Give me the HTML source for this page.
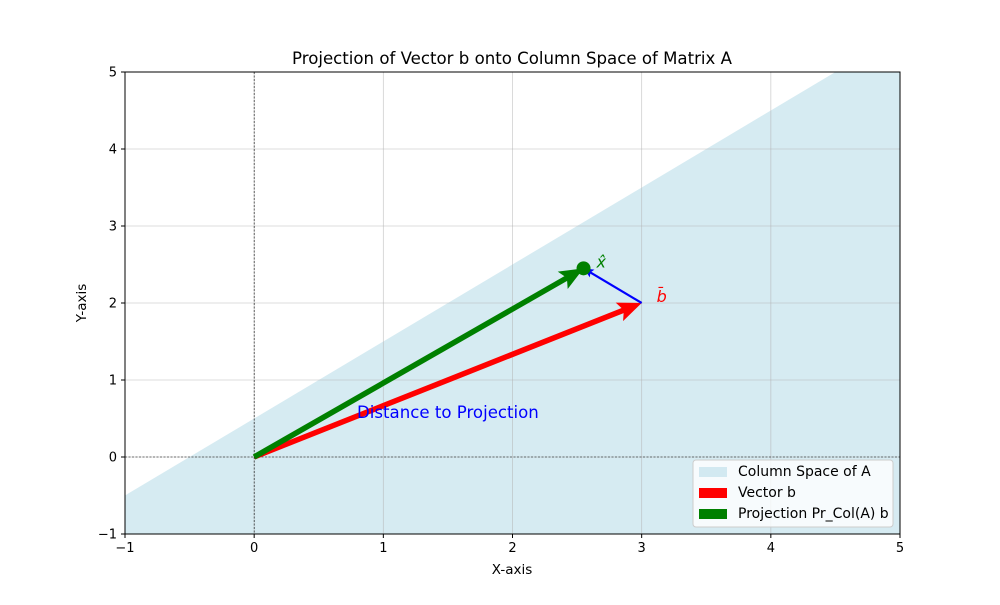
<!DOCTYPE html>
<html><head><meta charset="utf-8"><style>
body{margin:0;background:#fff;font-family:"Liberation Sans","DejaVu Sans",sans-serif}
svg text{font-family:"DejaVu Sans","Liberation Sans",sans-serif}
</style></head><body>
<svg width="1000" height="600" xmlns="http://www.w3.org/2000/svg">
<g id="g"></g>
</svg>
<script>
const xTicks=[-1,0,1,2,3,4,5];
const yTicks=[-1,0,1,2,3,4,5];
const vectorB=[3,2];
const projection=[2.55,2.45];
const spaceLine=[[-1,-0.5],[4.5,5]];
const NS="http://www.w3.org/2000/svg";
const X0=125,X1=900,Y0=534,Y1=72;
const sx=v=>X0+(v+1)/6*(X1-X0);
const sy=v=>Y0-(v+1)/6*(Y0-Y1);
const g=document.getElementById('g');
function el(t,a,name,txt){const e=document.createElementNS(NS,t);for(const k in a)e.setAttribute(k,a[k]);


if(txt!==undefined)e.textContent=txt;g.appendChild(e);return e;}
el('polygon',{points:`${sx(-1)},${sy(-1)} ${sx(spaceLine[0][0])},${sy(spaceLine[0][1])} ${sx(spaceLine[1][0])},${sy(spaceLine[1][1])} ${sx(5)},${sy(5)} ${sx(5)},${sy(-1)}`,fill:'#add8e6','fill-opacity':0.5},'column-space-fill');
xTicks.forEach(t=>{el('line',{x1:sx(t),x2:sx(t),y1:Y1,y2:Y0,stroke:'#b0b0b0','stroke-opacity':0.6,'stroke-width':0.8},'x-grid-line');});
yTicks.forEach(t=>{el('line',{x1:X0,x2:X1,y1:sy(t),y2:sy(t),stroke:'#b0b0b0','stroke-opacity':0.6,'stroke-width':0.8},'y-grid-line');});
el('line',{x1:sx(0),x2:sx(0),y1:Y1,y2:Y0,stroke:'#000','stroke-width':0.6,'stroke-dasharray':'2,1.5'},'y-zero-line');
el('line',{x1:X0,x2:X1,y1:sy(0),y2:sy(0),stroke:'#000','stroke-width':0.6,'stroke-dasharray':'2,1.5'},'x-zero-line');
function arrow(x0,y0,x1,y1,color,w,hl,hw,name){
 const px0=sx(x0),py0=sy(y0),px1=sx(x1),py1=sy(y1);
 const dx=px1-px0,dy=py1-py0,L=Math.hypot(dx,dy),ux=dx/L,uy=dy/L,nx=-uy,ny=ux;
 const bx=px1-ux*hl,by=py1-uy*hl;
 el('line',{x1:px0,y1:py0,x2:px1-ux*hl*0.6,y2:py1-uy*hl*0.6,stroke:color,'stroke-width':w},name+'-shaft');
 el('polygon',{points:`${px1},${py1} ${bx+nx*hw},${by+ny*hw} ${bx+ux*hl*0.2},${by+uy*hl*0.2} ${bx-nx*hw},${by-ny*hw}`,fill:color},name+'-head');
}
arrow(0,0,vectorB[0],vectorB[1],'#ff0000',5.5,24,10,'vector-b');
arrow(0,0,projection[0],projection[1],'#008000',5.5,24,10,'projection');
arrow(vectorB[0],vectorB[1],projection[0],projection[1],'#0000ff',2.2,10,4.5,'distance-arrow');
el('circle',{cx:sx(projection[0]),cy:sy(projection[1]),r:7,fill:'#008000'},'projection-point');
el('text',{x:sx(projection[0])+13,y:sy(projection[1])-1,fill:'#008000','font-size':16,'font-style':'italic'},'x-hat-label','x̂');
el('text',{x:sx(vectorB[0])+15,y:sy(vectorB[1])-1,fill:'#ff0000','font-size':16,'font-style':'italic'},'b-bar-label','b̄');
el('text',{x:357,y:418,fill:'#0000ff','font-size':16.6},'distance-label','Distance to Projection');
el('rect',{x:X0,y:Y1,width:X1-X0,height:Y0-Y1,fill:'none',stroke:'#000','stroke-width':1},'plot-frame');
xTicks.forEach(t=>{el('line',{x1:sx(t),x2:sx(t),y1:Y0,y2:Y0+4,stroke:'#000'},'x-tick');
 el('text',{x:sx(t),y:Y0+18,'text-anchor':'middle','font-size':13},'x-tick-label',t<0?'−'+(-t):t);});
yTicks.forEach(t=>{el('line',{x1:X0-4,x2:X0,y1:sy(t),y2:sy(t),stroke:'#000'},'y-tick');
 el('text',{x:X0-8,y:sy(t)+4.5,'text-anchor':'end','font-size':13},'y-tick-label',t<0?'−'+(-t):t);});
el('text',{x:512,y:574,'text-anchor':'middle','font-size':13.5},'x-axis-title','X-axis');
el('text',{x:86,y:303,'text-anchor':'middle','font-size':13.5,transform:'rotate(-90 86 303)'},'y-axis-title','Y-axis');
el('text',{x:512,y:64,'text-anchor':'middle','font-size':16.6},'chart-title','Projection of Vector b onto Column Space of Matrix A');
el('rect',{x:693,y:460,width:200,height:67,rx:3,fill:'#fff','fill-opacity':0.8,stroke:'#ccc'},'legend-box');
const leg=[['#add8e6',0.5,'Column Space of A'],['#ff0000',1,'Vector b'],['#008000',1,'Projection Pr_Col(A) b']];
leg.forEach((l,i)=>{const y=471+i*21;
 el('rect',{x:699,y:y-4,width:28,height:10,fill:l[0],'fill-opacity':l[1]},'legend-swatch');
 el('text',{x:738,y:y+5,'font-size':14},'legend-entry',l[2]);});
</script>
</body></html>
